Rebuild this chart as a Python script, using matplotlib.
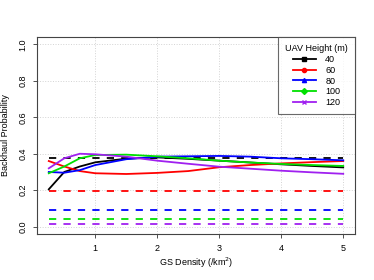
import matplotlib
matplotlib.use("Agg")
import matplotlib.pyplot as plt
import numpy as np

plt.rcParams['font.family'] = ['Liberation Sans', 'DejaVu Sans']

# GS density (/km^2)
density = [0.25, 0.5, 0.75, 1.0, 1.5, 2.0, 2.5, 3.0, 3.5, 4.0, 4.5, 5.0]

heights = ['40', '60', '80', '100', '120']
colors = ['black', 'red', 'blue', '#00e000', '#a020f0']
markers = ['s', 'o', '^', 'D', 'x']

# solid curves
prob_40 = [0.205, 0.30, 0.33, 0.353, 0.373, 0.380, 0.372, 0.362, 0.352, 0.342, 0.333, 0.325]
prob_60 = [0.36, 0.33, 0.305, 0.293, 0.289, 0.295, 0.305, 0.326, 0.338, 0.347, 0.354, 0.36]
prob_80 = [0.30, 0.296, 0.31, 0.338, 0.37, 0.384, 0.386, 0.388, 0.384, 0.375, 0.37, 0.364]
prob_100 = [0.293, 0.33, 0.375, 0.393, 0.395, 0.386, 0.375, 0.362, 0.352, 0.344, 0.338, 0.333]
prob_120 = [0.32, 0.375, 0.40, 0.397, 0.384, 0.362, 0.345, 0.329, 0.318, 0.307, 0.298, 0.29]
curves = [prob_40, prob_60, prob_80, prob_100, prob_120]

# dashed reference levels
levels = [0.378, 0.196, 0.09, 0.042, 0.015]

fig = plt.figure(figsize=(3.74, 2.8), dpi=100)
ax = fig.add_axes([37 / 374, 1 - 234 / 280, 318 / 374, 197 / 280])

for h, c, m, y, lv in zip(heights, colors, markers, curves, levels):
    ax.plot(density, [lv] * len(density), color=c, lw=1.3, ls=(0, (4, 4)))
for h, c, m, y, lv in zip(heights, colors, markers, curves, levels):
    ax.plot(density, y, color=c, lw=1.3)

ax.set_xlim(0.06, 5.19)
ax.set_ylim(-0.04, 1.04)
ax.set_xticks([1, 2, 3, 4, 5])
ax.set_yticks([0.0, 0.2, 0.4, 0.6, 0.8, 1.0])
ax.set_yticklabels(['0.0', '0.2', '0.4', '0.6', '0.8', '1.0'], rotation=90, va='center')
ax.grid(True, color='#d3d3d3', ls=':', lw=0.7)
ax.tick_params(labelsize=6.5, length=3, width=0.6, pad=4, color='#333333')
for s in ax.spines.values():
    s.set_linewidth(0.8)
    s.set_color('#444444')

ax.set_xlabel('GS Density (/km$^2$)', fontsize=6.5, labelpad=2)
ax.set_ylabel('Backhaul Probability', fontsize=6.5, labelpad=6)

# legend with markers
handles = []
for h, c, m in zip(heights, colors, markers):
    ln, = ax.plot([], [], color=c, lw=1.3, marker=m, markersize=3)
    handles.append(ln)
leg = ax.legend(handles, heights, title='UAV Height (m)', loc='upper right',
                fontsize=6.5, title_fontsize=6.5, frameon=True, fancybox=False,
                edgecolor='#444444', borderaxespad=0, handlelength=2.6,
                handletextpad=1.0, labelspacing=0.2, borderpad=0.8)
leg.get_frame().set_linewidth(0.8)

fig.savefig('out.png', dpi=100)
